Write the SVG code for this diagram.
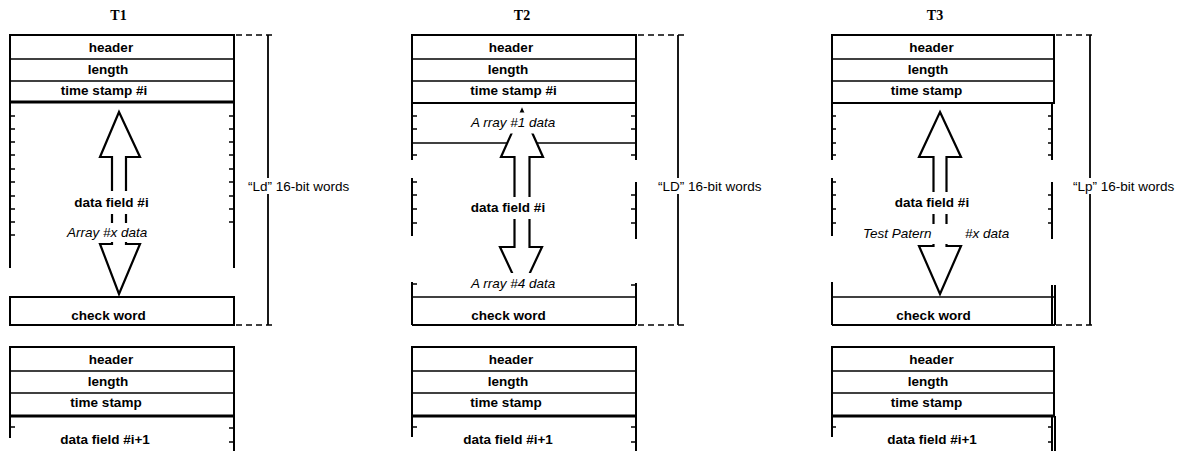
<svg xmlns="http://www.w3.org/2000/svg" width="1187" height="451" viewBox="0 0 1187 451">
<style>
.box{fill:none;stroke:#000;stroke-width:2}
.row{stroke:#000;stroke-width:1.5}
.thick{stroke:#000;stroke-width:3}
.wall{stroke:#000;stroke-width:2;fill:none}
.tick{stroke:#000;stroke-width:1.3;fill:none}
.lbl{font-family:"Liberation Sans",Arial,sans-serif;font-size:13.5px;font-weight:bold;text-anchor:middle;fill:#000}
.it{font-family:"Liberation Sans",Arial,sans-serif;font-size:13.5px;font-style:italic;fill:#000}
.reg{font-family:"Liberation Sans",Arial,sans-serif;font-size:13.5px;fill:#000}
.ttl{font-family:"Liberation Serif","Times New Roman",serif;font-size:14px;font-weight:bold;text-anchor:middle;fill:#000}
.dash{stroke:#000;stroke-width:1.5;stroke-dasharray:6 4;fill:none}
.brace{stroke:#000;stroke-width:1.8;fill:none}
.arrow{fill:#fff;stroke:#000;stroke-width:2.2;stroke-linejoin:miter}
.bg{fill:#fff;stroke:none}
</style>

<!-- ================= T1 ================= -->
<g id="t1">
  <text class="ttl" x="118.5" y="20">T1</text>
  <rect class="box" x="10" y="35" width="224" height="67"/>
  <line class="row" x1="10" y1="59" x2="234" y2="59"/>
  <line class="row" x1="10" y1="81" x2="234" y2="81"/>
  <line class="thick" x1="10" y1="102" x2="234" y2="102"/>
  <text class="lbl" x="111" y="52">header</text>
  <text class="lbl" x="108" y="74">length</text>
  <text class="lbl" x="104" y="95">time stamp #i</text>
  <line class="wall" x1="10" y1="102" x2="10" y2="268"/>
  <line class="wall" x1="234" y1="102" x2="234" y2="268"/>
  <path class="tick" d="M10,116h5M10,129h5M10,142h5M10,155h5M10,169h5M10,182h5M10,196h5M10,209h5M10,222h5M10,235h5"/>
  <path class="tick" d="M229,116h5M229,129h5M229,142h5M229,155h5M229,169h5M229,182h5M229,196h5M229,209h5M229,222h5"/>
  <rect class="box" x="10" y="297" width="224" height="28"/>
  <text class="lbl" x="108.5" y="320">check word</text>
</g>
<g id="t1-next">
  <rect class="box" x="10" y="347" width="224" height="69"/>
  <line class="row" x1="10" y1="371" x2="234" y2="371"/>
  <line class="row" x1="10" y1="393" x2="234" y2="393"/>
  <line class="thick" x1="10" y1="416" x2="234" y2="416"/>
  <text class="lbl" x="111" y="364">header</text>
  <text class="lbl" x="108" y="386">length</text>
  <text class="lbl" x="106" y="407">time stamp</text>
  <line class="wall" x1="10" y1="416" x2="10" y2="438"/>
  <line class="wall" x1="234" y1="416" x2="234" y2="451"/>
  <path class="tick" d="M10,427h5M229,428h5M229,442h5"/>
  <text class="lbl" x="105" y="444">data field #i+1</text>
</g>

<!-- ================= T2 ================= -->
<g id="t2">
  <text class="ttl" x="522" y="20">T2</text>
  <rect class="box" x="412" y="35" width="224" height="68"/>
  <line class="row" x1="412" y1="59" x2="636" y2="59"/>
  <line class="row" x1="412" y1="81" x2="636" y2="81"/>
  <text class="lbl" x="511" y="52">header</text>
  <text class="lbl" x="508" y="74">length</text>
  <text class="lbl" x="513.5" y="95">time stamp #i</text>
  <path class="wall" d="M412,103V160M412,178V236M412,282V325M636,103V160M636,182V239M636,283V325"/>
  <line class="row" x1="412" y1="143" x2="636" y2="143"/>
  <path class="tick" d="M412,116h5M412,129h5M412,155h5M412,182h5M412,195h5M412,209h5M412,223h5M412,284h5"/>
  <path class="tick" d="M631,116h5M631,129h5M631,155h5M631,195h5M631,209h5M631,223h5M631,285h5"/>
  <line class="row" x1="412" y1="297" x2="636" y2="297"/>
  <line class="box" x1="412" y1="325" x2="636" y2="325"/>
  <text class="lbl" x="508.5" y="320">check word</text>
</g>
<g id="t2-next">
  <rect class="box" x="412" y="347" width="224" height="69"/>
  <line class="row" x1="412" y1="371" x2="636" y2="371"/>
  <line class="row" x1="412" y1="393" x2="636" y2="393"/>
  <line class="thick" x1="412" y1="416" x2="636" y2="416"/>
  <text class="lbl" x="511" y="364">header</text>
  <text class="lbl" x="508" y="386">length</text>
  <text class="lbl" x="506" y="407">time stamp</text>
  <line class="wall" x1="412" y1="416" x2="412" y2="437"/>
  <line class="wall" x1="636" y1="416" x2="636" y2="451"/>
  <path class="tick" d="M412,427h5M631,427h5M631,442h5"/>
  <text class="lbl" x="508" y="444">data field #i+1</text>
</g>

<!-- ================= T3 ================= -->
<g id="t3">
  <text class="ttl" x="935" y="20">T3</text>
  <rect class="box" x="832" y="35" width="222" height="68"/>
  <line class="row" x1="832" y1="59" x2="1054" y2="59"/>
  <line class="row" x1="832" y1="81" x2="1054" y2="81"/>
  <text class="lbl" x="931.5" y="52">header</text>
  <text class="lbl" x="928" y="74">length</text>
  <text class="lbl" x="926.5" y="95">time stamp</text>
  <path class="wall" d="M832,103V160M832,178V236M832,282V325M1052,103V160M1052,182V239M1052,285V325M1055,285V325"/>
  <path class="tick" d="M832,116h4M832,129h4M832,143h4M832,155h4M832,182h4M832,195h4M832,209h4M832,223h4"/>
  <path class="tick" d="M1048,116h4M1048,129h4M1048,143h4M1048,155h4M1048,195h4M1048,209h4M1048,223h4"/>
  <line class="row" x1="832" y1="297" x2="1054" y2="297"/>
  <line class="box" x1="832" y1="325" x2="1055" y2="325"/>
  <text class="lbl" x="933.5" y="320">check word</text>
</g>
<g id="t3-next">
  <rect class="box" x="832" y="347" width="222" height="69"/>
  <line class="row" x1="832" y1="371" x2="1054" y2="371"/>
  <line class="row" x1="832" y1="393" x2="1054" y2="393"/>
  <line class="thick" x1="832" y1="416" x2="1054" y2="416"/>
  <text class="lbl" x="931.5" y="364">header</text>
  <text class="lbl" x="928" y="386">length</text>
  <text class="lbl" x="926.5" y="407">time stamp</text>
  <line class="wall" x1="832" y1="416" x2="832" y2="437"/>
  <path class="wall" d="M1052,416V451M1055,416V451"/>
  <path class="tick" d="M832,427h4M1048,427h4M1048,442h4"/>
  <text class="lbl" x="932" y="444">data field #i+1</text>
</g>

<!-- ================= connectors ================= -->
<g id="connectors">
  <!-- T1 double arrow -->
  <path class="arrow" d="M119,112 L140,157 L126,157 L126,244 L140,244 L119,294 L100,244 L112,244 L112,157 L100,157 Z"/>
  <rect class="bg" x="70" y="191" width="84" height="23"/>
  <rect class="bg" x="64" y="223" width="92" height="19"/>
  <text class="lbl" x="111.5" y="207">data field #i</text>
  <text class="it" x="67" y="237">Array #x data</text>

  <!-- T2 double arrow -->
  <path class="arrow" d="M522,110 L543,157 L529.5,157 L529.5,247 L542,247 L521,292 L500,247 L514.5,247 L514.5,157 L501,157 Z"/>
  <rect class="bg" x="466" y="112.5" width="100" height="21"/>
  <rect class="bg" x="466" y="197" width="86" height="22"/>
  <rect class="bg" x="466" y="273" width="100" height="22"/>
  <text class="it" x="471" y="127">A rray #1 data</text>
  <text class="lbl" x="508" y="212">data field #i</text>
  <text class="it" x="471" y="288">A rray #4 data</text>

  <!-- T3 double arrow -->
  <path class="arrow" d="M940,112 L961,157 L946.5,157 L946.5,246 L961,246 L940,294 L919,246 L933.5,246 L933.5,157 L919,157 Z"/>
  <rect class="bg" x="890" y="192" width="86" height="22"/>
  <rect class="bg" x="858" y="224" width="158" height="20"/>
  <text class="lbl" x="932" y="207">data field #i</text>
  <text class="it" x="863" y="238">Test Patern</text>
  <text class="it" x="965" y="238">#x data</text>

  <!-- length braces -->
  <path class="dash" d="M236,35H274M236,325H274"/>
  <line class="brace" x1="268" y1="35" x2="268" y2="325"/>
  <rect class="bg" x="246" y="178" width="108" height="16"/>
  <text class="reg" x="248" y="191">“Ld” 16-bit words</text>

  <path class="dash" d="M638,35H684M638,325H684"/>
  <line class="brace" x1="678" y1="35" x2="678" y2="325"/>
  <rect class="bg" x="656" y="178" width="110" height="16"/>
  <text class="reg" x="658" y="191">“LD” 16-bit words</text>

  <path class="dash" d="M1056,35H1093M1056,325H1093"/>
  <line class="brace" x1="1090" y1="35" x2="1090" y2="325"/>
  <rect class="bg" x="1071" y="178" width="112" height="16"/>
  <text class="reg" x="1073" y="191">“Lp” 16-bit words</text>
</g>
</svg>
